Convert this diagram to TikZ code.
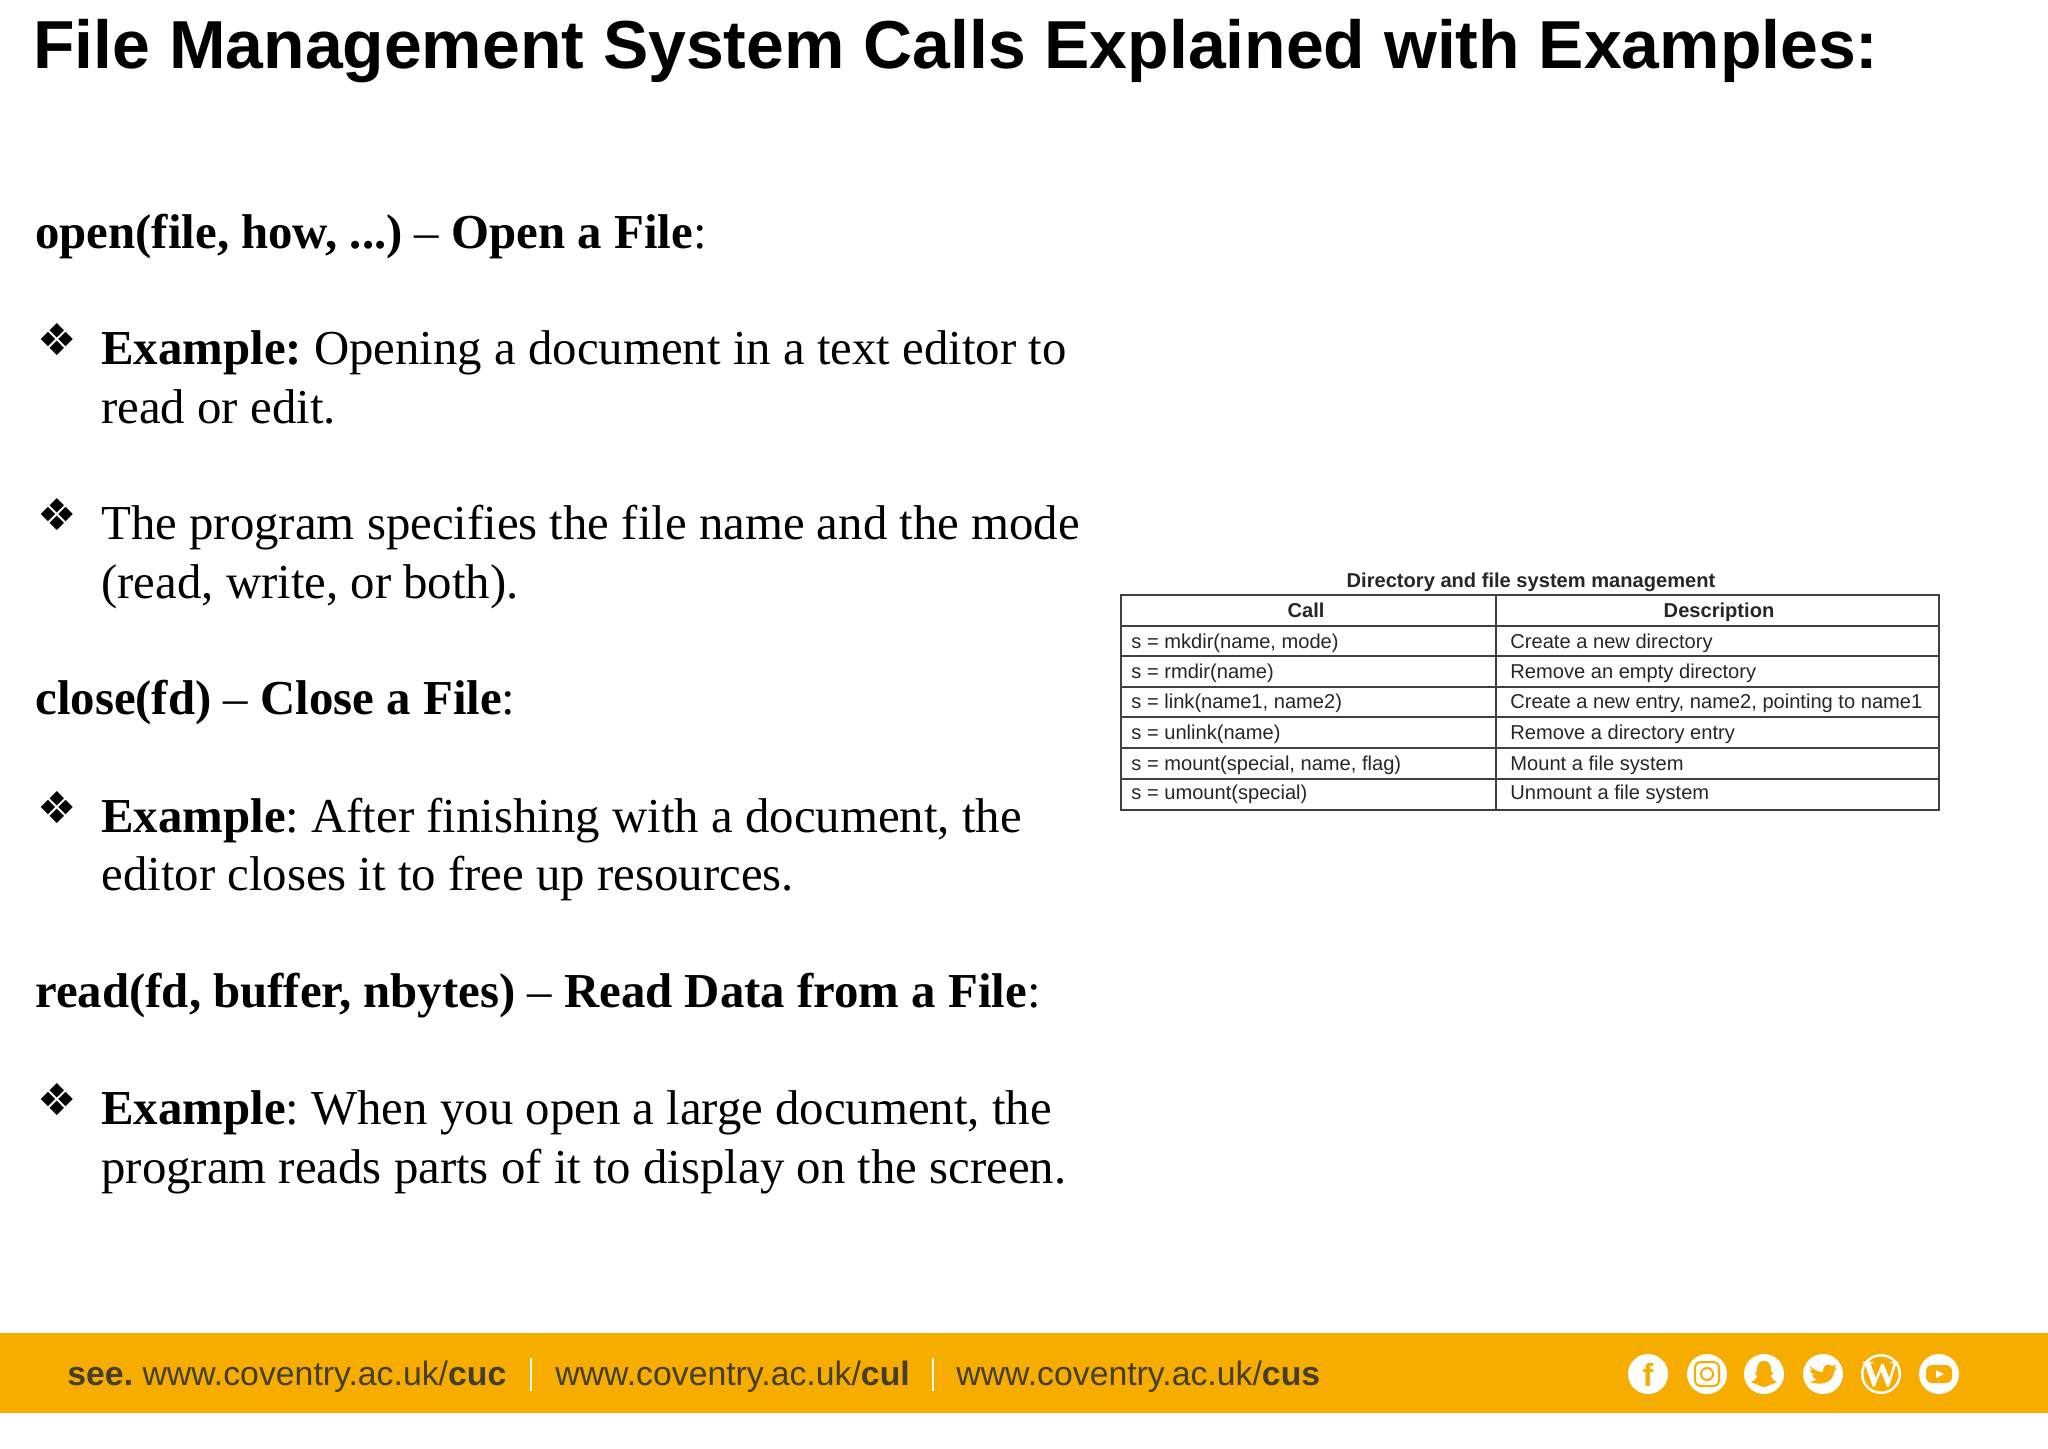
\documentclass[tikz,border=0pt]{standalone}
\usepackage{fontspec}
\setmainfont{Liberation Serif}
\setsansfont{Liberation Sans}
\newfontfamily\bulletfont{DejaVu Sans}
\frenchspacing
\definecolor{band}{HTML}{F7AC00}
\definecolor{bandtext}{HTML}{453F2A}
\tikzset{title/.style={anchor=base west,inner sep=0,font=\fontsize{33.95}{33.95}\selectfont\sffamily\bfseries}}
\tikzset{b/.style={anchor=base west,inner sep=0,font=\fontsize{24.4}{24.4}\selectfont}}
\tikzset{bul/.style={anchor=base west,inner sep=0,font=\fontsize{22}{22}\selectfont\bulletfont}}
\tikzset{t/.style={anchor=base west,inner sep=0,font=\fontsize{10.05}{10.05}\selectfont\sffamily,text=black!85}}
\tikzset{th/.style={anchor=base,inner sep=0,font=\fontsize{10.05}{10.05}\selectfont\sffamily\bfseries,text=black!85}}
\tikzset{u/.style={anchor=base west,inner sep=0,font=\fontsize{16.9}{16.9}\selectfont\sffamily,text=bandtext}}
\tikzset{disc/.style={fill=white,draw=none}}
\begin{document}
\begin{tikzpicture}[x=0.5pt,y=-0.5pt]
        \useasboundingbox (0,0) rectangle (2048,1448);
        \node[title] (head) at (33,68) {File Management System Calls Explained with Examples:};
        % left column
        \node[b] (open) at (35,248) {\textbf{open(file, how, ...)} – \textbf{Open a File}:};
        \node[bul] (b1) at (37,355) {❖};
        \node[b] (e1a) at (101,364) {\textbf{Example:} Opening a document in a text editor to};
        \node[b] (e1b) at (101,423) {read or edit.};
        \node[bul] (b2) at (37,530) {❖};
        \node[b] (e2a) at (101,539) {The program specifies the file name and the mode};
        \node[b] (e2b) at (101,598) {(read, write, or both).};
        \node[b] (close) at (35,714) {\textbf{close(fd)} – \textbf{Close a File}:};
        \node[bul] (b3) at (37,823) {❖};
        \node[b] (e3a) at (101,832) {\textbf{Example}: After finishing with a document, the};
        \node[b] (e3b) at (101,890) {editor closes it to free up resources.};
        \node[b] (read) at (35,1007) {\textbf{read(fd, buffer, nbytes)} – \textbf{Read Data from a File}:};
        \node[bul] (b4) at (37,1115) {❖};
        \node[b] (e4a) at (101,1124) {\textbf{Example}: When you open a large document, the};
        \node[b] (e4b) at (101,1183) {program reads parts of it to display on the screen.};
        % table
        \node[th] (cap) at (1531,587) {Directory and file system management};
        \draw[black!75,line width=.7pt] (1121,595) rectangle (1939,810);
        \draw[black!75,line width=.7pt] (1496,595)--(1496,810);
        \foreach \y in {626,656,687,717,748,779}
          \draw[black!75,line width=.7pt] (1121,\y)--(1939,\y);
        \node[th] (call) at (1306,617) {Call};
        \node[th] (desc) at (1719,617) {Description};
        \node[t] (c1) at (1131,648) {s = mkdir(name, mode)};
        \node[t] (c2) at (1131,678) {s = rmdir(name)};
        \node[t] (c3) at (1131,708) {s = link(name1, name2)};
        \node[t] (c4) at (1131,739) {s = unlink(name)};
        \node[t] (c5) at (1131,770) {s = mount(special, name, flag)};
        \node[t] (c6) at (1131,799) {s = umount(special)};
        \node[t] (d1) at (1510,648) {Create a new directory};
        \node[t] (d2) at (1510,678) {Remove an empty directory};
        \node[t] (d3) at (1510,708) {Create a new entry, name2, pointing to name1};
        \node[t] (d4) at (1510,739) {Remove a directory entry};
        \node[t] (d5) at (1510,770) {Mount a file system};
        \node[t] (d6) at (1510,799) {Unmount a file system};
        % footer
        \fill[band] (0,1333) rectangle (2048,1413);
        \node[u] (see) at (67,1385) {\textbf{see.} www.coventry.ac.uk/\textbf{cuc}};
        \node[u] (cul) at (555,1385) {www.coventry.ac.uk/\textbf{cul}};
        \node[u] (cus) at (956,1385) {www.coventry.ac.uk/\textbf{cus}};
        \draw[white,line width=1pt] (531,1358)--(531,1391);
        \draw[white,line width=1pt] (933,1358)--(933,1391);
        % icons
        \foreach \x in {1648,1707,1764,1823,1881,1939}
          \fill[disc] (\x,1374) circle (20);
        \node[inner sep=0,text=band,font=\fontsize{16}{16}\selectfont\sffamily\bfseries] (fb) at (1648,1375) {f};
        \draw[band,line width=1pt,rounded corners=2.5pt] (1695,1362) rectangle (1719,1386);
        \draw[band,line width=1pt] (1707,1374) circle (6);
        \begin{scope}[shift={(1764,1374)}]
          \fill[band] (0,-13) .. controls (-7,-13) and (-7,-7) .. (-7,-3) -- (-9,-1) -- (-7,2)
            .. controls (-8,6) and (-11,7) .. (-13,8) -- (-6,11) -- (0,13) -- (6,11) -- (13,8)
            .. controls (11,7) and (8,6) .. (7,2) -- (9,-1) -- (7,-3)
            .. controls (7,-7) and (7,-13) .. (0,-13) -- cycle;
        \end{scope}
        \begin{scope}[shift={(1823,1374)}]
          \fill[band] (-13,-8) .. controls (-9,-4) and (-5,-2) .. (0,-2)
            .. controls (-1,-8) and (5,-12) .. (9,-8) -- (13,-9) -- (11,-5) -- (14,-6) -- (11,-3)
            .. controls (11,6) and (2,13) .. (-14,8)
            .. controls (-10,8) and (-8,7) .. (-6,5)
            .. controls (-9,5) and (-11,3) .. (-11,1) -- (-8,1)
            .. controls (-11,0) and (-13,-2) .. (-13,-4) -- (-10,-4)
            .. controls (-13,-6) and (-14,-8) .. (-13,-8) -- cycle;
        \end{scope}
        \fill[band] (1881,1374) circle (17.5);
        \node[inner sep=0,text=white,font=\fontsize{18.5}{18.5}\selectfont\rmfamily\bfseries] (wp) at (1881,1375) {W};
        \fill[band,rounded corners=3pt] (1926,1365) rectangle (1952,1383);
        \fill[white] (1936,1370)--(1936,1378)--(1944,1374)--cycle;
\end{tikzpicture}
\end{document}
